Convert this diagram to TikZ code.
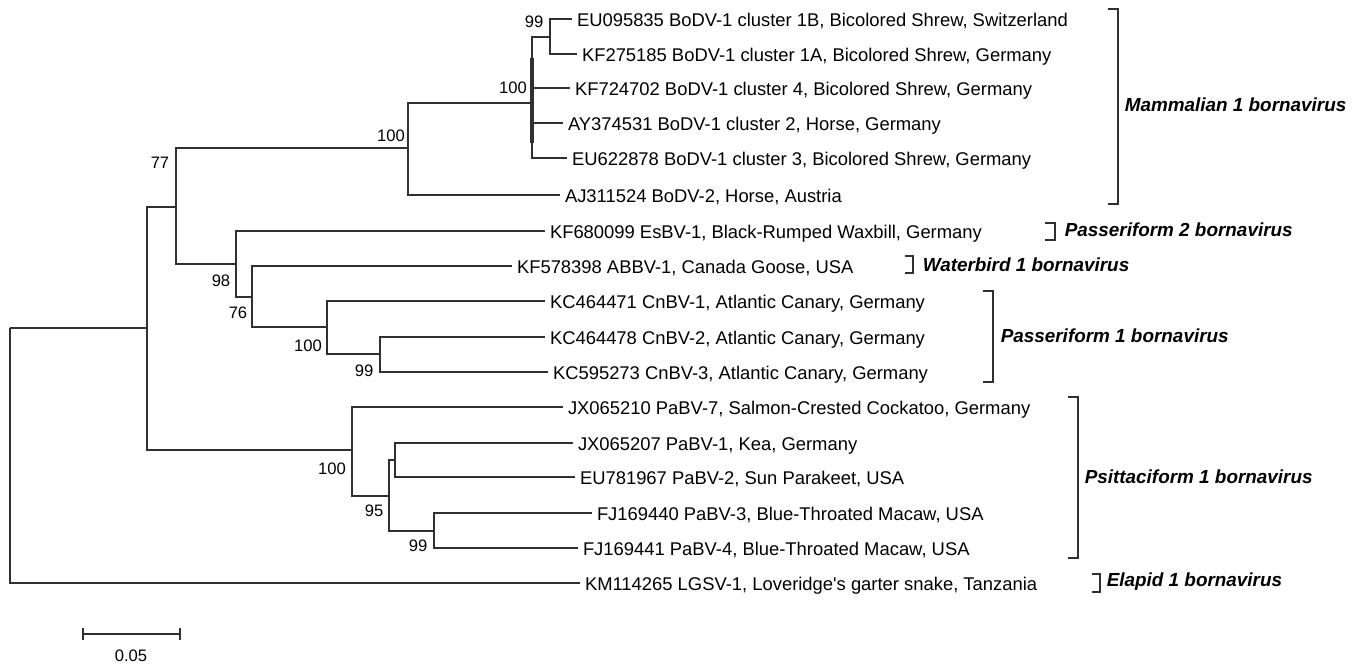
\documentclass[tikz,border=0pt]{standalone}
\usepackage{fontspec}
\setmainfont{Liberation Sans}
\usepackage{tikz}

\definecolor{treeline}{HTML}{303030}
\newcommand{\leaffont}{\fontsize{9.2}{11}\selectfont}
\newcommand{\bsfont}{\fontsize{8.3}{10}\selectfont}
\newcommand{\cladefont}{\fontsize{9.45}{11}\selectfont\bfseries\itshape}

\begin{document}
\begin{tikzpicture}[x=0.5pt,y=-0.5pt,line width=0.75pt,draw=treeline]

      \useasboundingbox (0,0) rectangle (1367,664);

      % inner nodes of the tree
      \coordinate (root) at (10,328);
      \coordinate (ingroup) at (147,328);
      \coordinate (n77) at (176,207);
      \coordinate (mamm) at (408,148);
      \coordinate (bodv1) at (532,103);
      \coordinate (clus1) at (550,37);
      \coordinate (n98) at (236,264);
      \coordinate (n76) at (252,297);
      \coordinate (canary) at (327,327);
      \coordinate (canary2) at (380,354);
      \coordinate (psitt) at (352,450);
      \coordinate (n95) at (389,496);
      \coordinate (pabv12) at (395,460);
      \coordinate (pabv34) at (434,531);
      \coordinate (bodvtop) at (532,58);
      \coordinate (bodvbot) at (532,143);

      \begin{scope}[every node/.style={anchor=west,inner sep=2.5pt,outer sep=0pt,
          font=\leaffont,text height=0.9em,text depth=0.184em}]
        \node (eu095835) at (572,19) {EU095835 BoDV-1 cluster 1B, Bicolored Shrew, Switzerland};
        \node (kf275185) at (577,54) {KF275185 BoDV-1 cluster 1A, Bicolored Shrew, Germany};
        \node (kf724702) at (570,88) {KF724702 BoDV-1 cluster 4, Bicolored Shrew, Germany};
        \node (ay374531) at (563,123) {AY374531 BoDV-1 cluster 2, Horse, Germany};
        \node (eu622878) at (567,158) {EU622878 BoDV-1 cluster 3, Bicolored Shrew, Germany};
        \node (aj311524) at (560,195) {AJ311524 BoDV-2, Horse, Austria};
        \node (kf680099) at (545,231) {KF680099 EsBV-1, Black-Rumped Waxbill, Germany};
        \node (kf578398) at (512,266) {KF578398 ABBV-1, Canada Goose, USA};
        \node (kc464471) at (545,301) {KC464471 CnBV-1, Atlantic Canary, Germany};
        \node (kc464478) at (545,337) {KC464478 CnBV-2, Atlantic Canary, Germany};
        \node (kc595273) at (548,372) {KC595273 CnBV-3, Atlantic Canary, Germany};
        \node (jx065210) at (563,407) {JX065210 PaBV-7, Salmon-Crested Cockatoo, Germany};
        \node (jx065207) at (573,443) {JX065207 PaBV-1, Kea, Germany};
        \node (eu781967) at (575,477) {EU781967 PaBV-2, Sun Parakeet, USA};
        \node (fj169440) at (592,513) {FJ169440 PaBV-3, Blue-Throated Macaw, USA};
        \node (fj169441) at (578,548) {FJ169441 PaBV-4, Blue-Throated Macaw, USA};
        \node (km114265) at (580,583) {KM114265 LGSV-1, Loveridge\textquotesingle s garter snake, Tanzania};
      \end{scope}

      % branches
      \draw (root) -- (ingroup);
      \draw (root) |- (km114265);
      \draw (ingroup) |- (n77);
      \draw (ingroup) |- (psitt);
      \draw (n77) |- (mamm);
      \draw (n77) |- (n98);
      \draw (mamm) |- (bodv1);
      \draw (mamm) |- (aj311524);
      \draw (bodv1) |- (clus1);
      \draw (bodv1) |- (kf724702);
      \draw (bodv1) |- (ay374531);
      \draw (bodv1) |- (eu622878);
      \draw[line width=1.6pt] (bodvtop) -- (bodvbot);
      \draw (clus1) |- (eu095835);
      \draw (clus1) |- (kf275185);
      \draw (n98) |- (kf680099);
      \draw (n98) |- (n76);
      \draw (n76) |- (kf578398);
      \draw (n76) |- (canary);
      \draw (canary) |- (kc464471);
      \draw (canary) |- (canary2);
      \draw (canary2) |- (kc464478);
      \draw (canary2) |- (kc595273);
      \draw (psitt) |- (jx065210);
      \draw (psitt) |- (n95);
      \draw (n95) |- (pabv12);
      \draw (n95) |- (pabv34);
      \draw (pabv12) |- (jx065207);
      \draw (pabv12) |- (eu781967);
      \draw (pabv34) |- (fj169440);
      \draw (pabv34) |- (fj169441);

      % bootstrap values
      \begin{scope}[every node/.style={inner sep=0pt,font=\bsfont}]
        \node (bs1b) at (534,22) {99};
        \node (bsbodv) at (513,88) {100};
        \node (bsmamm) at (391,136) {100};
        \node (bs77) at (160,163) {77};
        \node (bs98) at (221,281) {98};
        \node (bs76) at (238,313) {76};
        \node (bscan) at (308,346) {100};
        \node (bscan2) at (364,371) {99};
        \node (bspsitt) at (332,469) {100};
        \node (bs95) at (374,511) {95};
        \node (bspabv) at (418,546) {99};
      \end{scope}

      % species brackets
      \begin{scope}[every node/.style={anchor=west,inner sep=0pt,font=\cladefont}]
        \draw (1108,9) -- (1118,9) -- (1118,204) -- (1108,204);
        \node (mammlab) at (1124,105) {Mammalian 1 bornavirus};
        \draw (1045,223) -- (1055,223) -- (1055,240) -- (1045,240);
        \node (pass2lab) at (1064,230) {Passeriform 2 bornavirus};
        \draw (905,256) -- (913,256) -- (913,273) -- (905,273);
        \node (waterlab) at (922,265) {Waterbird 1 bornavirus};
        \draw (983,291) -- (993,291) -- (993,382) -- (983,382);
        \node (pass1lab) at (1000,336) {Passeriform 1 bornavirus};
        \draw (1068,397) -- (1078,397) -- (1078,558) -- (1068,558);
        \node (psittlab) at (1084,477) {Psittaciform 1 bornavirus};
        \draw (1092,574) -- (1100,574) -- (1100,592) -- (1092,592);
        \node (elapidlab) at (1106,582) {Elapid 1 bornavirus};
      \end{scope}

      % scale bar
      \coordinate (barl) at (83,634);
      \coordinate (barr) at (180,634);
      \draw (barl) -- (barr);
      \draw ([yshift=-3.2pt]barl) -- ([yshift=3.2pt]barl);
      \draw ([yshift=-3.2pt]barr) -- ([yshift=3.2pt]barr);
      \node[inner sep=0pt,font=\bsfont] (barlab) at (131,656) {0.05};

    \end{tikzpicture}
\end{document}
